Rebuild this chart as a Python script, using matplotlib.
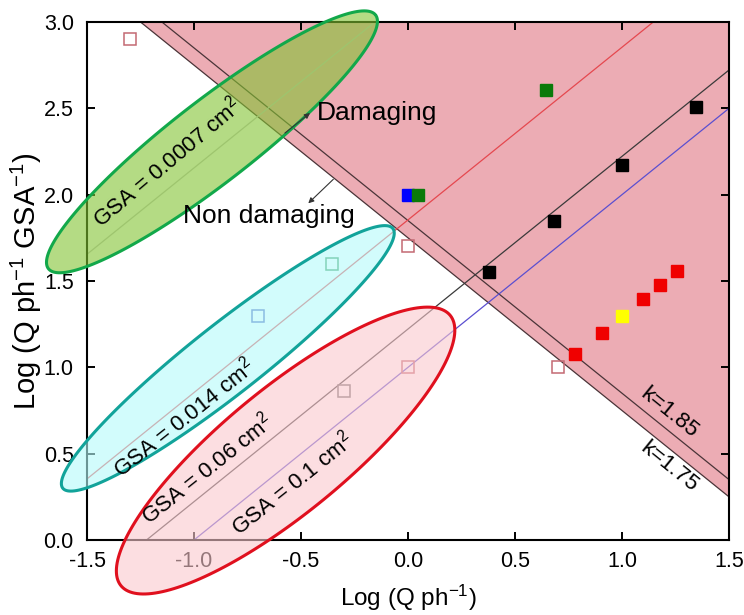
import numpy as np
import matplotlib
matplotlib.use('Agg')
import matplotlib.pyplot as plt
from matplotlib.patches import Polygon

plt.rcParams['font.family'] = ['Liberation Sans', 'DejaVu Sans']
plt.rcParams['mathtext.fontset'] = 'custom'
plt.rcParams['mathtext.rm'] = 'Liberation Sans'
plt.rcParams['mathtext.it'] = 'Liberation Sans:italic'
plt.rcParams['axes.unicode_minus'] = False

# damage thresholds: log(Q/ph/GSA) + log(Q/ph) = k
k_values = [1.75, 1.85]
k_labels = ['k=1.75', 'k=1.85']

# constant spot size lines: y = x - log10(GSA)
gsa_values = [0.0007, 0.014, 0.06, 0.1]
gsa_colors = ['#c8c8c8', '#e5484f', '#3a3a3a', '#5b4fd0']
gsa_labels = ['GSA = 0.0007 cm$^2$', 'GSA = 0.014 cm$^2$', 'GSA = 0.06 cm$^2$', 'GSA = 0.1 cm$^2$']

# measured points
black_x = [0.38, 0.68, 1.0, 1.345]
black_y = [1.55, 1.85, 2.17, 2.51]
red_x = [0.78, 0.905, 1.10, 1.178, 1.258]
red_y = [1.08, 1.20, 1.395, 1.477, 1.56]
yellow_x = [1.0]
yellow_y = [1.30]
blue_x = [0.0]
blue_y = [2.0]
green_x = [0.045, 0.645]
green_y = [2.0, 2.605]

# open symbols
open_x = [-1.30, 0.0, 0.0, 0.70]
open_y = [2.90, 1.70, 1.0, 1.0]
open_green_x = [-0.357]
open_green_y = [1.60]
open_blue_x = [-0.70]
open_blue_y = [1.30]
open_gray_x = [-0.30]
open_gray_y = [0.865]

XLIM = (-1.5, 1.5)
YLIM = (0.0, 3.0)
FIG_W, FIG_H = 744, 615
AX_BOX = [87 / FIG_W, 75 / FIG_H, 642 / FIG_W, 518 / FIG_H]


def oval(cx, cy, a, b, angle, sx, sy, n=200):
    """Ellipse outline given in pixel half-axes, returned in data units."""
    t = np.linspace(0, 2 * np.pi, n)
    th = np.deg2rad(angle)
    px = a * np.cos(t) * np.cos(th) - b * np.sin(t) * np.sin(th)
    py = a * np.cos(t) * np.sin(th) + b * np.sin(t) * np.cos(th)
    return np.column_stack([cx + px / sx, cy + py / sy])


def main():
    fig = plt.figure(figsize=(FIG_W / 100, FIG_H / 100), dpi=100)
    ax = fig.add_axes(AX_BOX)
    ax.set_xlim(*XLIM)
    ax.set_ylim(*YLIM)

    # pixels per data unit
    sx = FIG_W * AX_BOX[2] / (XLIM[1] - XLIM[0])
    sy = FIG_H * AX_BOX[3] / (YLIM[1] - YLIM[0])

    xx = np.array(XLIM)

    # damaging region
    ax.fill_between(xx, k_values[0] - xx, YLIM[1], color='#ecacb4', lw=0, zorder=1)
    for k in k_values:
        ax.plot(xx, k - xx, color='#4a3438', lw=0.9, zorder=2)

    for gsa, col in zip(gsa_values, gsa_colors):
        ax.plot(xx, xx - np.log10(gsa), color=col, lw=0.9, zorder=2)

    ms = 8.5
    ax.plot(black_x, black_y, 's', color='black', ms=ms, zorder=3)
    ax.plot(red_x, red_y, 's', color='#f00000', ms=ms, zorder=3)
    ax.plot(yellow_x, yellow_y, 's', color='#ffff00', ms=ms, zorder=3)
    ax.plot(blue_x, blue_y, 's', color='#0000ff', ms=ms, zorder=3)
    ax.plot(green_x, green_y, 's', color='#0a7a0a', ms=ms, zorder=3)

    ax.plot(open_x, open_y, 's', mfc='none', mec='#c36973', mew=1.1, ms=8, zorder=3)
    ax.plot(open_green_x, open_green_y, 's', mfc='none', mec='#3a9a5a', mew=1.1, ms=8, zorder=3)
    ax.plot(open_blue_x, open_blue_y, 's', mfc='none', mec='#5060c0', mew=1.1, ms=8, zorder=3)
    ax.plot(open_gray_x, open_gray_y, 's', mfc='none', mec='#707070', mew=1.1, ms=8, zorder=3)

    # grouping ovals
    ovals = [
        ((-0.916, 2.306), 207, 41, 37.8, '#82c332', '#12a84a'),
        ((-0.842, 1.052), 210, 35, 38.2, '#b4fafa', '#12a39a'),
        ((-0.572, 0.518), 213, 62, 39.4, '#fac8cd', '#e0101e'),
    ]
    for (cx, cy), a, b, ang, fc, ec in ovals:
        pts = oval(cx, cy, a, b, ang, sx, sy)
        ax.add_patch(Polygon(pts, closed=True, fc=fc, alpha=0.6, lw=0,
                             clip_on=False, zorder=5))
        ax.add_patch(Polygon(pts, closed=True, fill=False, ec=ec, lw=2.2,
                             clip_on=False, zorder=5))

    # labels along the GSA lines
    gsa_text_pos = [(-1.128, 2.19, 40), (-1.047, 0.705, 38.5),
                    (-0.938, 0.415, 38.5), (-0.541, 0.328, 38.5)]
    for (tx, ty, rot), lab in zip(gsa_text_pos, gsa_labels):
        ax.text(tx, ty, lab, fontsize=16, rotation=rot, ha='center', va='center',
                rotation_mode='anchor', zorder=6)

    ax.text(1.22, 0.734, k_labels[1], fontsize=16, rotation=-39, ha='center',
            va='center', rotation_mode='anchor', zorder=6)
    ax.text(1.22, 0.421, k_labels[0], fontsize=16, rotation=-39, ha='center',
            va='center', rotation_mode='anchor', zorder=6)

    arrow = dict(arrowstyle='-|>', color='#333333', lw=0.8, mutation_scale=8,
                 shrinkA=0, shrinkB=0)
    ax.annotate('', xy=(-0.458, 2.473), xytext=(-0.575, 2.357), arrowprops=arrow, zorder=6)
    ax.annotate('', xy=(-0.466, 1.950), xytext=(-0.349, 2.089), arrowprops=arrow, zorder=6)
    ax.text(-0.428, 2.432, 'Damaging', fontsize=19, va='baseline', zorder=6)
    ax.text(-1.05, 1.837, 'Non damaging', fontsize=19, va='baseline', zorder=6)

    ax.set_xticks(np.arange(-1.5, 1.51, 0.5))
    ax.set_yticks(np.arange(0, 3.01, 0.5))
    ax.xaxis.set_major_formatter(plt.FormatStrFormatter('%.1f'))
    ax.yaxis.set_major_formatter(plt.FormatStrFormatter('%.1f'))
    ax.tick_params(direction='in', length=6, width=1.4, top=True, right=True,
                   labelsize=15.5)
    ax.tick_params(axis='x', pad=8)
    ax.tick_params(axis='y', pad=9.5)
    for sp in ax.spines.values():
        sp.set_linewidth(1.5)

    ax.set_xlabel('Log (Q ph$^{-1}$)', fontsize=17.5, labelpad=8)
    ax.set_ylabel('Log (Q ph$^{-1}$ GSA$^{-1}$)', fontsize=21, labelpad=0)

    fig.savefig('out.png', dpi=100)


if __name__ == '__main__':
    main()
